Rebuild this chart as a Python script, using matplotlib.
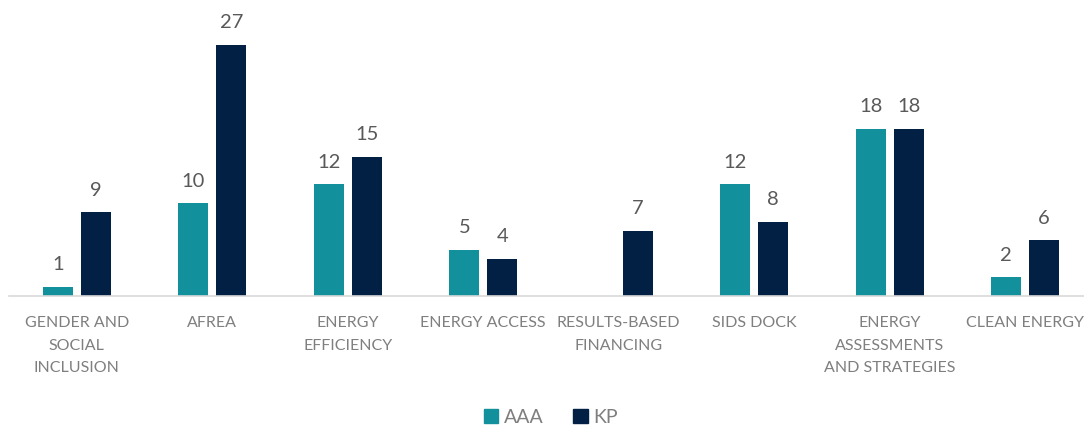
import numpy as np
import matplotlib
matplotlib.use("Agg")
import matplotlib.pyplot as plt
from matplotlib.patches import Patch

categories = ["GENDER AND\nSOCIAL\nINCLUSION", "AFREA", "ENERGY\nEFFICIENCY", "ENERGY ACCESS",
              "RESULTS-BASED\nFINANCING", "SIDS DOCK", "ENERGY\nASSESSMENTS\nAND STRATEGIES", "CLEAN ENERGY"]
aaa = [1, 10, 12, 5, np.nan, 12, 18, 2]
kp = [9, 27, 15, 4, 7, 8, 18, 6]
series_names = ["AAA", "KP"]

c_aaa = "#12909c"
c_kp = "#021f44"

plt.rcParams['font.family'] = ['Lato', 'DejaVu Sans']

W, H = 1084, 427
fig = plt.figure(figsize=(W/100, H/100), dpi=100)
x0, x1 = 9, 1084
ybase, ytop = 297, 18
ax = fig.add_axes([x0/W, (H-ybase)/H, (x1-x0)/W, (ybase-ytop)/H])

x = np.arange(len(categories))
bw = 0.221
off = 0.14
ax.bar(x - off, aaa, bw, color=c_aaa)
ax.bar(x + off, kp, bw, color=c_kp)

for xs, vals in ((x - off, aaa), (x + off, kp)):
    for xi, v in zip(xs, vals):
        if not np.isnan(v):
            ax.text(xi, v + 1.55, f"{int(v)}", ha="center", va="bottom", fontsize=14.5, color="#595959")

spacing = 135.5
ax.set_xlim(-0.5, -0.5 + (x1 - x0)/spacing)
ax.set_ylim(0, 30)
for s in ["top", "right", "left"]:
    ax.spines[s].set_visible(False)
ax.spines["bottom"].set_color("#d9d9d9")
ax.spines["bottom"].set_linewidth(1.2)
ax.set_yticks([])
ax.set_xticks(x)
ax.set_xticklabels(categories, fontsize=11.5, color="#7f7f7f", linespacing=1.75)
ax.tick_params(axis="x", length=0, pad=14)

handles = [Patch(color=c_aaa), Patch(color=c_kp)]
fig.legend(handles, series_names, loc="center", bbox_to_anchor=(551/W, (H-418)/H), ncol=2,
           frameon=False, fontsize=14, labelcolor="#7f7f7f", handlelength=0.75, handleheight=0.75,
           handletextpad=0.3, columnspacing=1.5)

fig.savefig("out.png", dpi=100)
